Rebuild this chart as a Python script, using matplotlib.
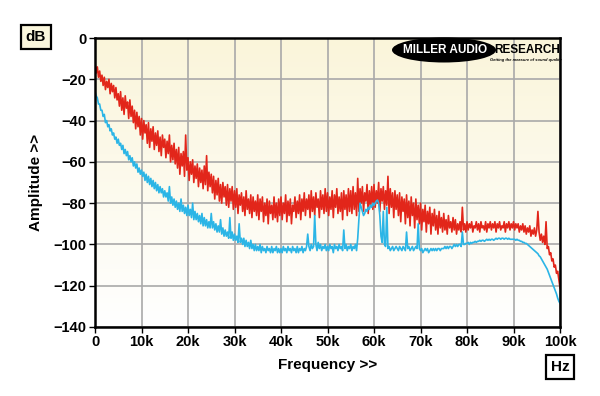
#!/usr/bin/env python3
"""Spectrum plot: amplitude vs frequency, Miller Audio Research style."""
import matplotlib
matplotlib.use('Agg')
import matplotlib.pyplot as plt
from matplotlib.patches import Ellipse
import numpy as np

plt.rcParams['font.family'] = ['Liberation Sans', 'DejaVu Sans']

# frequency grid, 0.25 kHz steps (0 .. 100 kHz)
freq_hz = np.arange(0, 100001, 250)

# red trace (dB), 20 values = 5 kHz per row
red_db = [
    -12, -17, -14, -19, -16, -21, -18, -23, -19, -25, -21, -24, -20, -27, -22, -26, -23, -29, -24, -30,
    -27, -33, -26, -35, -29, -37, -28, -34, -31, -39, -30, -38, -33, -41, -35, -44, -36, -43, -38, -47,
    -39, -49, -40, -46, -42, -51, -41, -53, -44, -50, -43, -54, -46, -52, -45, -55, -48, -57, -47, -53,
    -49, -58, -50, -56, -47, -60, -52, -59, -51, -61, -54, -63, -53, -66, -56, -62, -55, -67, -47, -64,
    -58, -69, -60, -66, -59, -70, -62, -68, -61, -72, -63, -70, -64, -73, -62, -71, -57, -74, -65, -72,
    -66, -75, -67, -78, -69, -76, -68, -79, -71, -80, -70, -77, -72, -81, -71, -82, -73, -79, -72, -83,
    -74, -82, -73, -85, -76, -81, -75, -84, -77, -86, -74, -83, -78, -85, -76, -87, -77, -84, -79, -86,
    -76, -88, -78, -84, -77, -89, -80, -86, -78, -90, -79, -85, -81, -88, -77, -87, -80, -89, -78, -86,
    -77, -88, -80, -85, -76, -89, -79, -86, -78, -90, -81, -84, -77, -87, -79, -85, -76, -88, -78, -84,
    -75, -86, -78, -83, -76, -87, -74, -84, -77, -86, -75, -82, -78, -87, -74, -83, -76, -85, -73, -84,
    -75, -86, -77, -83, -74, -87, -76, -82, -73, -85, -77, -84, -75, -88, -74, -83, -76, -86, -73, -84,
    -74, -85, -72, -83, -75, -86, -68, -84, -73, -80, -72, -84, -75, -79, -71, -85, -74, -81, -72, -83,
    -71, -82, -74, -80, -70, -84, -73, -79, -72, -83, -74, -81, -67, -85, -73, -82, -75, -87, -74, -83,
    -76, -86, -75, -89, -77, -84, -78, -90, -76, -87, -79, -91, -77, -86, -80, -92, -78, -88, -81, -90,
    -80, -93, -83, -89, -81, -94, -84, -90, -82, -95, -85, -91, -83, -93, -86, -95, -84, -92, -87, -94,
    -85, -93, -88, -95, -86, -92, -89, -94, -87, -93, -88, -95, -90, -93, -89, -94, -82, -93, -90, -94,
    -89, -93, -90, -92, -89, -94, -91, -92, -89, -93, -90, -94, -89, -92, -91, -93, -89, -94, -90, -92,
    -89, -93, -90, -92, -89, -94, -90, -92, -89, -93, -91, -92, -89, -94, -90, -92, -89, -93, -90, -92,
    -89, -93, -90, -92, -90, -94, -91, -93, -90, -94, -91, -95, -92, -94, -91, -96, -93, -95, -92, -96,
    -93, -84, -94, -98, -95, -99, -96, -100, -89, -102, -101, -105, -104, -108, -107, -111, -110, -114, -113, -117,
    -121,
]

# cyan trace (dB)
cyan_db = [
    -26, -28, -29, -32, -32, -35, -35, -38, -37, -41, -40, -43, -42, -45, -44, -47, -46, -49, -48, -51,
    -49, -52, -51, -54, -52, -56, -54, -57, -55, -59, -57, -60, -58, -62, -60, -63, -61, -65, -63, -66,
    -64, -67, -65, -69, -66, -70, -67, -71, -68, -72, -69, -73, -70, -74, -71, -75, -72, -75, -73, -77,
    -74, -77, -75, -79, -72, -80, -77, -81, -78, -82, -79, -83, -80, -84, -78, -84, -81, -85, -82, -86,
    -81, -86, -83, -87, -80, -88, -84, -88, -85, -89, -86, -90, -85, -91, -87, -91, -88, -92, -89, -92,
    -85, -92, -89, -93, -90, -94, -91, -94, -88, -95, -92, -96, -93, -96, -94, -97, -87, -97, -94, -98,
    -95, -98, -96, -99, -90, -99, -97, -100, -97, -101, -98, -101, -99, -102, -98, -102, -100, -103, -100, -103,
    -101, -103, -100, -104, -101, -103, -102, -104, -101, -103, -102, -104, -101, -104, -102, -103, -101, -104, -102, -104,
    -102, -104, -101, -103, -102, -104, -101, -103, -102, -104, -101, -103, -102, -104, -101, -104, -102, -103, -101, -104,
    -102, -103, -101, -95, -101, -103, -100, -102, -101, -86, -100, -103, -99, -102, -100, -103, -101, -102, -100, -103,
    -101, -103, -100, -102, -101, -104, -100, -102, -101, -103, -100, -102, -101, -103, -93, -102, -100, -103, -101, -102,
    -100, -103, -101, -102, -100, -103, -97, -88, -80, -82, -84, -86, -85, -83, -84, -82, -83, -81, -82, -80,
    -81, -80, -79, -78.5, -80, -86, -96, -99, -84, -100, -101, -82, -102, -101, -103, -102, -101, -103, -102, -101,
    -102, -103, -101, -102, -103, -101, -102, -103, -94, -102, -101, -103, -102, -101, -103, -102, -101, -102, -90, -102,
    -103, -102, -104, -103, -102, -103, -102, -104, -103, -102, -103, -102, -103, -102, -103, -102, -102, -103, -102, -102,
    -102, -101, -102, -101, -102, -101, -101, -102, -101, -100, -101, -100, -101, -100, -100, -101, -94, -100, -100, -99.5,
    -99.5, -99, -100, -99, -99.5, -99, -99, -98.5, -99, -98.5, -98.5, -98, -98.5, -98, -98, -98.5, -98, -97.5, -98, -97.5,
    -98, -97.5, -97.5, -98, -97.5, -97, -97.5, -97, -97, -97.5, -97, -97, -97.5, -97, -97, -97.5, -97, -97.5, -97.5, -97.5,
    -97.5, -97.5, -98, -97.5, -98, -98, -98.5, -98.5, -99, -99, -99.5, -99.5, -100, -100.5, -101, -101.5, -102, -102.5, -103, -103.5,
    -104, -104.5, -105.5, -106, -107, -108, -109, -110, -111, -112, -113.5, -115, -116.5, -118, -119.5, -121, -122.5, -124, -126, -127.5,
    -128.5,
]

x_ticks = [0, 10000, 20000, 30000, 40000, 50000, 60000, 70000, 80000, 90000, 100000]
x_tick_labels = ['0', '10k', '20k', '30k', '40k', '50k', '60k', '70k', '80k', '90k', '100k']
y_ticks = [0, -20, -40, -60, -80, -100, -120, -140]

fig = plt.figure(figsize=(6.0, 3.96), dpi=100)
fig.patch.set_facecolor('white')
ax = fig.add_axes([95/600, 1 - 327/396, 465/600, 289/396])

# cream-to-white vertical gradient behind the plot
top = np.array([250, 245, 218]) / 255.0
bot = np.array([255, 255, 255]) / 255.0
t = np.linspace(0, 1, 256)[:, None]
grad = (top * (1 - t) + bot * t)[:, None, :]
ax.imshow(grad, extent=[0, 100000, -140, 0], aspect='auto', origin='upper', zorder=0)

ax.plot(freq_hz, red_db, color='#E2261A', lw=1.2, zorder=3)
ax.plot(freq_hz, cyan_db, color='#2BB5E6', lw=1.2, zorder=4)

ax.set_xlim(0, 100000)
ax.set_ylim(-140, 0)
ax.set_xticks(x_ticks)
ax.set_xticklabels(x_tick_labels)
ax.set_yticks(y_ticks)
ax.grid(True, color='#A9A9A9', lw=1.2, zorder=1)
ax.set_axisbelow(True)
ax.tick_params(axis='both', length=4, width=1, pad=2, labelsize=10.5, color='black')
for lbl in ax.get_xticklabels() + ax.get_yticklabels():
    lbl.set_fontweight('bold')
for sp in ax.spines.values():
    sp.set_color('black')
    sp.set_linewidth(1.8)
    sp.set_zorder(5)

ax.set_xlabel('Frequency >>', fontsize=11, fontweight='bold', labelpad=6)
ax.set_ylabel('Amplitude >>', fontsize=11, fontweight='bold', labelpad=8)

# unit boxes
fig.text(36/600, 1 - 37/396, 'dB', ha='center', va='center', fontsize=11, fontweight='bold',
         bbox=dict(boxstyle='square,pad=0.3', fc='#FAF6DC', ec='black', lw=1.6))
fig.text(560/600, 1 - 367/396, 'Hz', ha='center', va='center', fontsize=11, fontweight='bold',
         bbox=dict(boxstyle='square,pad=0.3', fc='white', ec='black', lw=1.6))

# logo
fig.patches.append(Ellipse((444/600, 1 - 50/396), 104/600, 25/396,
                           transform=fig.transFigure, fc='black', ec='none', zorder=6))
fig.text(445/600, 1 - 50/396, 'MILLER AUDIO', ha='center', va='center', color='white',
         fontsize=8.5, fontweight='heavy', zorder=7)
fig.text(527/600, 1 - 50/396, 'RESEARCH', ha='center', va='center', color='black',
         fontsize=8.5, fontweight='heavy', zorder=7)
fig.text(526/600, 1 - 60/396, 'Getting the measure of sound quality', ha='center', va='center',
         color='black', fontsize=2.9, fontweight='bold', style='italic', zorder=7)

fig.savefig('out.png', dpi=100)
print('[saved] out.png')
